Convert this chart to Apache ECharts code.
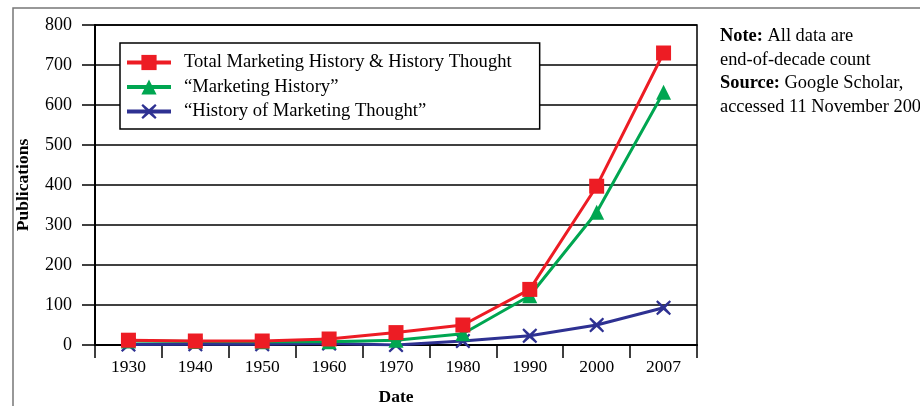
<!DOCTYPE html>
<html>
<head>
<meta charset="utf-8">
<script src="https://cdn.jsdelivr.net/npm/echarts@6/dist/echarts.min.js"></script>
<style>
html,body{margin:0;padding:0;background:#fff;}
#chart{width:920px;height:406px;}
</style>
</head>
<body>
<div id="chart"></div>
<script>
var categories = ['1930','1940','1950','1960','1970','1980','1990','2000','2007'];
var totalValues = [12, 10, 10, 15, 31, 50, 139, 397, 730];
var marketingHistoryValues = [10, 9, 8, 8, 12, 28, 123, 332, 632];
var historyThoughtValues = [1, 2, 2, 4, 0, 10, 23, 50, 93];
var seriesNames = ['Total Marketing History & History Thought', '\u201cMarketing History\u201d', '\u201cHistory of Marketing Thought\u201d'];
var yTicks = {min: 0, max: 800, interval: 100};

var FONT = '"Liberation Serif", "Times New Roman", serif';
var RED = '#ED1C24', GREEN = '#00A651', BLUE = '#2E3192';
var XSYM = 'path://M1,0 L5,3.6 L9,0 L10,1 L6.4,5 L10,9 L9,10 L5,6.4 L1,10 L0,9 L3.6,5 L0,1 Z';

var chart = echarts.init(document.getElementById('chart'), null, {renderer: 'canvas'});
chart.setOption({
  animation: false,
  backgroundColor: '#fff',
  textStyle: {fontFamily: FONT, color: '#000'},
  graphic: [
    {type: 'rect', z: -10, shape: {x: 13, y: 8, width: 1000, height: 1000},
     style: {fill: 'none', stroke: '#777', lineWidth: 1.5}},
    {type: 'text', left: 720, top: 27, style: {
      rich: {b: {fontWeight: 'bold', fontSize: 18.4, fontFamily: FONT, lineHeight: 23.7},
             n: {fontSize: 18.4, fontFamily: FONT, lineHeight: 23.7}},
      text: '{b|Note:}{n| All data are}\n{n|end-of-decade count}\n{b|Source:}{n| Google Scholar,}\n{n|accessed 11 November 2007}',
      fill: '#000'}}
  ],
  grid: {left: 95, right: 223, top: 25, bottom: 61, outerBoundsMode: 'none', containLabel: false,
         show: true, borderColor: '#000', borderWidth: 1.5, backgroundColor: 'transparent'},
  legend: {
    orient: 'vertical', left: 120, top: 43,
    backgroundColor: '#fff', borderColor: '#000', borderWidth: 1.5,
    padding: [10, 28, 8, 5], itemGap: 5.5, itemWidth: 44, itemHeight: 19,
    lineStyle: {width: 4},
    textStyle: {fontSize: 18.6, fontFamily: FONT, color: '#000', padding: [0, 0, 0, 8]},
    data: seriesNames
  },
  xAxis: {
    type: 'category', data: categories, boundaryGap: true,
    name: 'Date', nameLocation: 'middle', nameGap: 43,
    nameTextStyle: {fontWeight: 'bold', fontSize: 17.5, fontFamily: FONT, color: '#000'},
    axisLine: {lineStyle: {color: '#000', width: 2}},
    axisTick: {show: true, length: 13, lineStyle: {color: '#000', width: 1.5}},
    axisLabel: {fontSize: 17.5, fontFamily: FONT, color: '#000', margin: 13},
    splitLine: {show: false}
  },
  yAxis: {
    type: 'value', min: yTicks.min, max: yTicks.max, interval: yTicks.interval,
    name: 'Publications', nameLocation: 'middle', nameGap: 63, nameRotate: 90,
    nameTextStyle: {fontWeight: 'bold', fontSize: 17.5, fontFamily: FONT, color: '#000'},
    axisLine: {show: true, lineStyle: {color: '#000', width: 2}},
    axisTick: {show: true, length: 13, lineStyle: {color: '#000', width: 1.5}},
    axisLabel: {fontSize: 18, fontFamily: FONT, color: '#000', margin: 23},
    splitLine: {show: true, lineStyle: {color: '#000', width: 1.5}}
  },
  series: [
    {name: seriesNames[0], type: 'line', data: totalValues, color: RED,
     symbol: 'rect', symbolSize: 15, lineStyle: {width: 3, color: RED}, itemStyle: {color: RED}, z: 5},
    {name: seriesNames[1], type: 'line', data: marketingHistoryValues, color: GREEN,
     symbol: 'triangle', symbolSize: 15, lineStyle: {width: 3, color: GREEN}, itemStyle: {color: GREEN}, z: 4},
    {name: seriesNames[2], type: 'line', data: historyThoughtValues, color: BLUE,
     symbol: XSYM, symbolSize: 15, lineStyle: {width: 3, color: BLUE}, itemStyle: {color: BLUE}, z: 3}
  ]
});
</script>
</body>
</html>
